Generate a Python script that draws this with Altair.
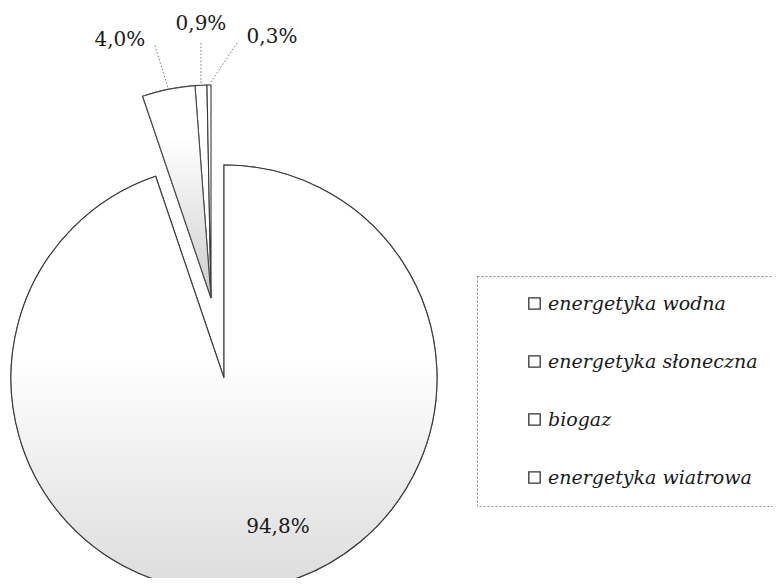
import math
import altair as alt
import pandas as pd

# ---- data ----
categories = ["energetyka wodna", "energetyka słoneczna", "biogaz", "energetyka wiatrowa"]
shares = [94.8, 4.0, 0.9, 0.3]
labels = ["94,8%", "4,0%", "0,9%", "0,3%"]
exploded = [0, 1, 1, 1]

# ---- layout parameters (not data) ----
CX, CY = 216, 370          # pie centre in plot pixels
R = 213                    # pie radius
EX_DX, EX_DY = -13, -80    # shift of the pulled-out slices
label_angle_nudge = [-10.6, -7.9, 0.6, 13.7]   # degrees added to slice mid-angle
label_radius = [158, 274, 274, 268]
FONT = "DejaVu Serif"

df = pd.DataFrame({
    "category": categories,
    "share": shares,
    "label": labels,
    "exploded": exploded,
    "order": list(range(len(categories))),
    "nudge": label_angle_nudge,
    "lrad": label_radius,
})

base = (
    alt.Chart(df)
    .transform_joinaggregate(total="sum(share)")
    .transform_window(cum="sum(share)", sort=[alt.SortField("order")], frame=[None, 0])
    .transform_calculate(
        t2="datum.cum / datum.total * 2 * PI",
        t1="(datum.cum - datum.share) / datum.total * 2 * PI",
    )
    .transform_calculate(
        mid="(datum.t1 + datum.t2) / 2",
        px=f"{CX} + datum.exploded * ({EX_DX})",
        py=f"{CY} + datum.exploded * ({EX_DY})",
    )
    .transform_calculate(
        la="datum.mid + datum.nudge * PI / 180",
        rimx=f"datum.px + {R} * sin(datum.mid)",
        rimy=f"datum.py - {R} * cos(datum.mid)",
    )
    .transform_calculate(
        lx="datum.px + datum.lrad * sin(datum.la)",
        ly="datum.py - datum.lrad * cos(datum.la)",
    )
    .transform_calculate(
        ddx="datum.rimx - datum.lx",
    )
    .transform_calculate(
        sx="datum.lx + clamp(datum.ddx, -35, 35)",
        sy="datum.ly + (abs(datum.ddx) > 30 ? 6 : 19)",
    )
)

pos = dict(
    x=alt.X("px:Q", scale=None),
    y=alt.Y("py:Q", scale=None),
    theta=alt.Theta("t1:Q", scale=None),
    theta2=alt.Theta2("t2:Q"),
)

arcs = base.mark_arc(radius=R, stroke="#3a3a3a", strokeWidth=1.1).encode(
    color=alt.Color(
        "category:N",
        sort=categories,
        scale=alt.Scale(domain=categories, range=["#ffffff", "#ffffff", "#ffffff", "#ffffff"]),
        legend=alt.Legend(
            title=None,
            orient="none",
            legendX=469,
            legendY=268,
            symbolType="square",
            symbolSize=130,
            symbolStrokeColor="#333333",
            symbolStrokeWidth=1.3,
            symbolOffset=30,
            labelFont=FONT,
            labelFontStyle="italic",
            labelFontSize=19,
            labelColor="#1a1a1a",
            labelOffset=4,
            labelLimit=400,
            rowPadding=38,
            padding=18,
            strokeColor="#8a8a8a",
        ),
    ),
    **pos,
)

grad_water = alt.Gradient(
    gradient="linear", x1=0, x2=0, y1=0, y2=1,
    stops=[alt.GradientStop(color="#ffffff", offset=0),
           alt.GradientStop(color="#ffffff", offset=0.45),
           alt.GradientStop(color="#dcdcdc", offset=1)],
)
grad_solar = alt.Gradient(
    gradient="linear", x1=0, x2=0, y1=0, y2=1,
    stops=[alt.GradientStop(color="#ffffff", offset=0),
           alt.GradientStop(color="#ffffff", offset=0.25),
           alt.GradientStop(color="#cdcdcd", offset=1)],
)

water = (
    base.transform_filter(alt.datum.order == 0)
    .mark_arc(radius=R, stroke="#3a3a3a", strokeWidth=1.1, fill=grad_water)
    .encode(**pos)
)
solar = (
    base.transform_filter(alt.datum.order == 1)
    .mark_arc(radius=R, stroke="#4a4a4a", strokeWidth=1.1, fill=grad_solar)
    .encode(**pos)
)

leaders = (
    base.transform_filter(alt.datum.exploded == 1)
    .mark_rule(color="#777777", strokeWidth=1, strokeDash=[1.5, 2])
    .encode(
        x=alt.X("sx:Q", scale=None),
        y=alt.Y("sy:Q", scale=None),
        x2=alt.X2("rimx:Q"),
        y2=alt.Y2("rimy:Q"),
    )
)

texts = base.mark_text(
    font=FONT, fontSize=20, color="#1a1a1a", align="center", baseline="middle"
).encode(
    x=alt.X("lx:Q", scale=None),
    y=alt.Y("ly:Q", scale=None),
    text="label:N",
)

chart = (
    alt.layer(arcs, water, solar, leaders, texts)
    .properties(width=765, height=570, autosize=alt.AutoSizeParams(type="none"), padding=0)
    .configure_view(stroke=None)
    .configure_legend(strokeDash=[2, 2], strokeWidth=1)
)

chart.save("out.html", embed_options={"renderer": "svg", "actions": False})
